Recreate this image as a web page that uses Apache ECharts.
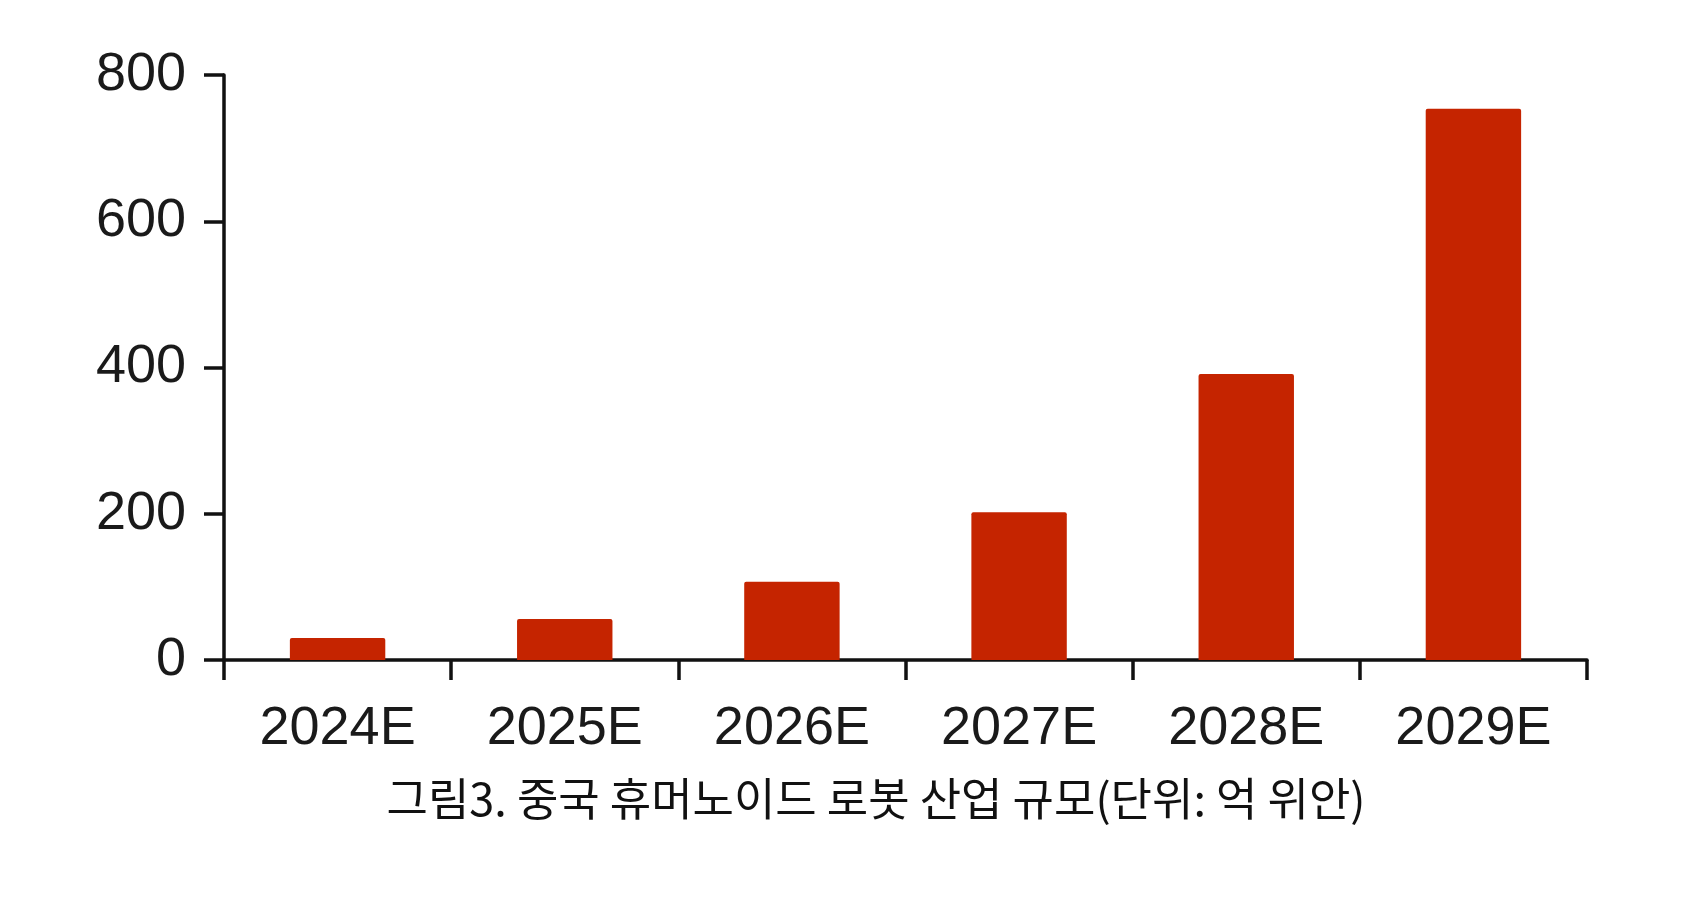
<!DOCTYPE html>
<html>
<head>
<meta charset="utf-8">
<script src="https://cdn.jsdelivr.net/npm/echarts@6/dist/echarts.min.js"></script>
<style>
html,body{margin:0;padding:0;background:#fff;}
#chart{width:1708px;height:898px;}
</style>
</head>
<body>
<div id="chart"></div>
<script>
var categories = ['2024E', '2025E', '2026E', '2027E', '2028E', '2029E'];
var marketSize = [30, 56, 107, 202, 391, 754];
var yTicks = [0, 200, 400, 600, 800];
var titleText = '그림3. 중국 휴머노이드 로봇 산업 규모(단위: 억 위안)';

var chart = echarts.init(document.getElementById('chart'));
chart.setOption({
  backgroundColor: '#ffffff',
  animation: false,
  title: {
    text: titleText,
    left: 871,
    textAlign: 'center',
    top: 771,
    textStyle: {
      fontFamily: '"Noto Sans CJK KR", sans-serif',
      fontSize: 45,
      fontWeight: 'normal',
      color: '#111111'
    }
  },
  grid: { left: 224, right: 121, top: 75, bottom: 238, containLabel: false },
  xAxis: {
    type: 'category',
    data: categories,
    axisLine: { show: true, lineStyle: { color: '#111111', width: 3.5 } },
    axisTick: { show: true, alignWithLabel: false, length: 20, lineStyle: { color: '#111111', width: 3.5 } },
    axisLabel: {
      margin: 42,
      fontFamily: '"Liberation Sans", Arial, sans-serif',
      fontSize: 54,
      color: '#1a1a1a'
    },
    splitLine: { show: false }
  },
  yAxis: {
    type: 'value',
    min: yTicks[0],
    max: yTicks[yTicks.length - 1],
    interval: 200,
    axisLine: { show: true, lineStyle: { color: '#111111', width: 3.5 } },
    axisTick: { show: true, length: 20, lineStyle: { color: '#111111', width: 3.5 } },
    axisLabel: {
      margin: 38,
      fontFamily: '"Liberation Sans", Arial, sans-serif',
      fontSize: 54,
      color: '#1a1a1a'
    },
    splitLine: { show: false }
  },
  series: [{
    type: 'bar',
    data: marketSize,
    barWidth: '42%',
    itemStyle: { color: '#c52400', borderRadius: [2, 2, 0, 0] }
  }]
});
</script>
</body>
</html>
